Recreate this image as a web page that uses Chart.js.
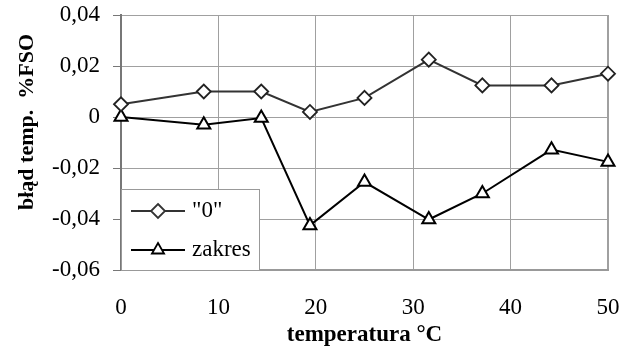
<!DOCTYPE html>
<html lang="pl">
<head>
  <meta charset="UTF-8">
  <title>Błąd temperaturowy</title>
  <script src="https://cdn.jsdelivr.net/npm/chart.js"></script>
  <style>
    body {
      margin: 0;
      background: #fff;
    }
    #wrap {
      width: 632px;
      height: 347px;
    }
  </style>
</head>
<body>
  <div id="wrap">
    <canvas id="chart" width="632" height="347"></canvas>
  </div>

  <script>
    // values
    const temps = [0, 8.5, 14.4, 19.4, 25, 31.6, 37.1, 44.2, 50];
    const zeroErr = [0.005, 0.01, 0.01, 0.002, 0.0075, 0.0225, 0.0124, 0.0124, 0.017];
    const rangeErr = [0, -0.003, -0.0004, -0.0425, -0.0255, -0.0402, -0.030, -0.0128, -0.0176];
    const seriesNames = ['"0"', 'zakres'];
    const xTicks = [0, 10, 20, 30, 40, 50];
    const yTicks = [-0.06, -0.04, -0.02, 0, 0.02, 0.04];

    const serif = "'Liberation Serif', 'Times New Roman', serif";

    function pts(ys) {
      return temps.map((t, i) => ({ x: t, y: ys[i] }));
    }

    function fmtY(v) {
      if (Math.abs(v) < 1e-9) return '0';
      return v.toFixed(2).replace('.', ',');
    }

    // legend box inside the plot + rotated y title
    const extras = {
      id: 'extras',
      afterDraw(chart) {
        const ctx = chart.ctx;
        const a = chart.chartArea;
        ctx.save();

        // legend
        const bx = a.left, by = 189, bw = 138, bh = a.bottom - 189;
        ctx.fillStyle = '#fff';
        ctx.fillRect(bx, by, bw, bh);
        ctx.strokeStyle = '#999';
        ctx.lineWidth = 1;
        ctx.strokeRect(bx + 0.5, by + 0.5, bw, bh);

        const rows = [
          { y: 211, color: '#333', shape: 'diamond', name: seriesNames[0] },
          { y: 250, color: '#000', shape: 'triangle', name: seriesNames[1] }
        ];
        rows.forEach(r => {
          ctx.strokeStyle = r.color;
          ctx.lineWidth = 2;
          ctx.beginPath();
          ctx.moveTo(131, r.y);
          ctx.lineTo(185, r.y);
          ctx.stroke();
          const cx = 158, s = 7;
          ctx.beginPath();
          if (r.shape === 'diamond') {
            ctx.moveTo(cx, r.y - s);
            ctx.lineTo(cx + s, r.y);
            ctx.lineTo(cx, r.y + s);
            ctx.lineTo(cx - s, r.y);
          } else {
            const h = s * 1.5, half = s * Math.sqrt(3) / 2;
            ctx.moveTo(cx, r.y - s);
            ctx.lineTo(cx + half, r.y - s + h);
            ctx.lineTo(cx - half, r.y - s + h);
          }
          ctx.closePath();
          ctx.fillStyle = '#fff';
          ctx.fill();
          ctx.lineWidth = 1.8;
          ctx.stroke();
          ctx.fillStyle = '#000';
          ctx.font = '23px ' + serif;
          ctx.textAlign = 'left';
          ctx.textBaseline = 'middle';
          ctx.fillText(r.name, 192, r.y);
        });

        // y axis title
        ctx.translate(33, 122);
        ctx.rotate(-Math.PI / 2);
        ctx.font = 'bold 22px ' + serif;
        ctx.textAlign = 'center';
        ctx.textBaseline = 'alphabetic';
        ctx.fillStyle = '#000';
        ctx.fillText('błąd temp.  %FSO', 0, 0);
        ctx.restore();
      }
    };

    new Chart(document.getElementById('chart'), {
      type: 'scatter',
      data: {
        datasets: [
          {
            label: seriesNames[0],
            data: pts(zeroErr),
            showLine: true,
            clip: false,
            borderColor: '#333',
            borderWidth: 2,
            pointStyle: 'rectRot',
            pointRadius: 7,
            pointBorderWidth: 1.8,
            pointBackgroundColor: '#fff',
            pointBorderColor: '#222'
          },
          {
            label: seriesNames[1],
            data: pts(rangeErr),
            showLine: true,
            clip: false,
            borderColor: '#000',
            borderWidth: 2,
            pointStyle: 'triangle',
            pointRadius: 7.5,
            pointBorderWidth: 2,
            pointBackgroundColor: '#fff',
            pointBorderColor: '#000'
          }
        ]
      },
      options: {
        responsive: false,
        animation: false,
        devicePixelRatio: 1,
        layout: { padding: { top: 15, right: 24, left: 0, bottom: 0 } },
        plugins: {
          legend: { display: false },
          tooltip: { enabled: false }
        },
        scales: {
          x: {
            type: 'linear',
            min: 0,
            max: 50,
            afterFit: s => {
              s.height = 77;
              s.paddingLeft = 0;
              s.paddingRight = 0;
            },
            afterBuildTicks: s => { s.ticks = xTicks.map(v => ({ value: v })); },
            grid: {
              color: '#a0a0a0',
              lineWidth: c => (c.tick && c.tick.value === 50 ? 2 : 1),
              drawTicks: false
            },
            border: { color: '#999', width: 2 },
            ticks: {
              color: '#000',
              padding: 24,
              font: { family: serif, size: 23 }
            },
            title: {
              display: true,
              text: 'temperatura °C',
              color: '#000',
              padding: { top: 0, bottom: -2 },
              font: { family: serif, size: 23, weight: 'bold' }
            }
          },
          y: {
            min: -0.06,
            max: 0.04,
            afterFit: s => {
              s.width = 121;
              s.paddingTop = 0;
              s.paddingBottom = 0;
            },
            afterBuildTicks: s => { s.ticks = yTicks.map(v => ({ value: v })); },
            grid: {
              color: '#a0a0a0',
              lineWidth: 1,
              tickLength: 8,
              tickColor: '#777'
            },
            border: { color: '#777', width: 2 },
            ticks: {
              color: '#000',
              padding: 13,
              font: { family: serif, size: 23 },
              callback: v => fmtY(v)
            }
          }
        }
      },
      plugins: [extras]
    });
  </script>
</body>
</html>
